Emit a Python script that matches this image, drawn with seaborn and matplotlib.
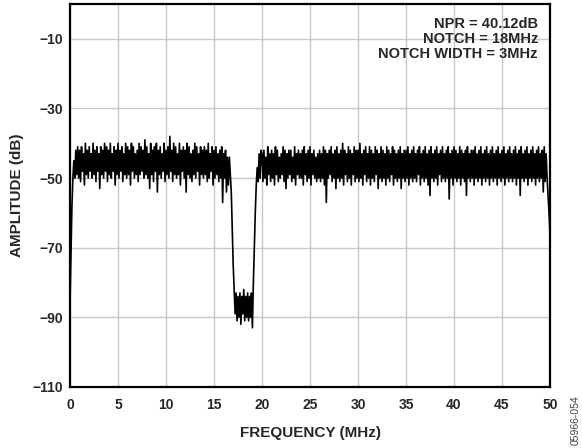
import numpy as np
import pandas as pd
import seaborn as sns
import matplotlib.pyplot as plt

# FFT trace, one row per MHz, 0.1 MHz per sample
FREQ_STEP_MHZ = 0.1
amp_rows = [
    [-86, -72, -58, -50, -45, -50, -42, -49, -41, -50],  # 0
    [-42, -51, -41, -48, -43, -52, -40, -49, -42, -50],  # 1
    [-41, -48, -43, -50, -40, -49, -42, -51, -41, -48],  # 2
    [-43, -53, -41, -49, -42, -50, -40, -48, -41, -51],  # 3
    [-42, -49, -40, -50, -43, -48, -41, -52, -42, -49],  # 4
    [-40, -50, -42, -48, -41, -51, -43, -49, -40, -50],  # 5
    [-41, -49, -42, -52, -40, -48, -41, -50, -43, -49],  # 6
    [-42, -51, -40, -49, -41, -48, -42, -50, -39, -49],  # 7
    [-41, -50, -43, -53, -40, -49, -42, -51, -41, -48],  # 8
    [-40, -54, -42, -49, -41, -50, -43, -48, -40, -51],  # 9
    [-42, -49, -41, -50, -38, -48, -42, -51, -40, -49],  # 10
    [-41, -50, -43, -49, -40, -52, -42, -48, -41, -50],  # 11
    [-42, -54, -40, -49, -41, -50, -43, -51, -42, -49],  # 12
    [-40, -50, -41, -48, -43, -52, -41, -49, -42, -50],  # 13
    [-41, -49, -42, -51, -40, -50, -43, -48, -41, -52],  # 14
    [-42, -50, -41, -49, -43, -51, -42, -50, -41, -57],  # 15
    [-43, -50, -42, -54, -44, -52, -44, -49, -54, -64],  # 16
    [-75, -82, -89, -83, -91, -84, -90, -83, -92, -84],  # 17
    [-89, -82, -91, -84, -90, -83, -91, -84, -90, -83],  # 18
    [-93, -80, -70, -60, -52, -47, -51, -43, -50, -42],  # 19
    [-43, -51, -42, -50, -44, -52, -41, -49, -43, -51],  # 20
    [-42, -50, -43, -52, -41, -49, -42, -51, -44, -50],  # 21
    [-43, -49, -41, -51, -42, -53, -43, -50, -42, -49],  # 22
    [-42, -51, -44, -50, -41, -52, -43, -49, -42, -50],  # 23
    [-43, -50, -42, -52, -41, -49, -43, -51, -42, -50],  # 24
    [-41, -52, -43, -49, -42, -50, -44, -51, -43, -50],  # 25
    [-42, -51, -43, -50, -41, -52, -42, -57, -43, -50],  # 26
    [-42, -49, -41, -51, -43, -50, -42, -53, -41, -50],  # 27
    [-43, -51, -42, -50, -40, -52, -42, -49, -43, -51],  # 28
    [-41, -50, -42, -52, -43, -49, -41, -51, -42, -50],  # 29
    [-42, -51, -40, -50, -43, -52, -42, -49, -41, -51],  # 30
    [-43, -50, -41, -52, -42, -50, -43, -51, -41, -49],  # 31
    [-42, -53, -43, -50, -41, -51, -42, -50, -43, -52],  # 32
    [-41, -50, -42, -51, -43, -49, -41, -52, -42, -50],  # 33
    [-43, -51, -42, -50, -41, -53, -43, -50, -42, -51],  # 34
    [-42, -50, -41, -52, -43, -50, -42, -51, -41, -50],  # 35
    [-43, -51, -42, -49, -41, -52, -43, -50, -42, -51],  # 36
    [-41, -50, -43, -52, -42, -55, -41, -50, -43, -51],  # 37
    [-42, -50, -41, -52, -43, -49, -42, -51, -41, -50],  # 38
    [-43, -51, -42, -50, -41, -56, -43, -50, -42, -52],  # 39
    [-41, -50, -42, -51, -43, -50, -41, -52, -42, -50],  # 40
    [-43, -51, -42, -55, -41, -50, -43, -51, -42, -50],  # 41
    [-42, -52, -41, -50, -43, -51, -42, -50, -41, -52],  # 42
    [-43, -50, -42, -51, -41, -50, -43, -52, -42, -50],  # 43
    [-41, -51, -43, -50, -42, -52, -41, -50, -43, -51],  # 44
    [-42, -50, -41, -52, -43, -50, -42, -51, -41, -50],  # 45
    [-43, -51, -42, -50, -41, -52, -43, -50, -42, -55],  # 46
    [-41, -50, -43, -51, -42, -50, -41, -52, -43, -50],  # 47
    [-42, -51, -41, -50, -43, -52, -42, -50, -41, -51],  # 48
    [-43, -50, -42, -54, -41, -51, -43, -50, -55, -60],  # 49
    [-66],                                               # 50
]

x_ticks = [0, 5, 10, 15, 20, 25, 30, 35, 40, 45, 50]
y_ticks = [-110, -90, -70, -50, -30, -10]
note_lines = ["NPR = 40.12dB", "NOTCH = 18MHz", "NOTCH WIDTH = 3MHz"]

amp = [v for row in amp_rows for v in row]
freq = np.round(np.arange(len(amp)) * FREQ_STEP_MHZ, 1)
df = pd.DataFrame({"freq": freq, "amp": amp})

sns.set_style("whitegrid")
plt.rcParams["font.family"] = ["Liberation Sans", "DejaVu Sans"]
plt.rcParams["font.weight"] = "bold"

fig = plt.figure(figsize=(5.82, 4.48), dpi=100)
ax = fig.add_axes([0.1203, 0.1362, 0.8247, 0.8548])

sns.lineplot(data=df, x="freq", y="amp", color="black", linewidth=1.2,
             estimator=None, ax=ax)

ax.set_xlim(0, 50)
ax.set_ylim(-110, 0)
ax.set_xticks(x_ticks)
ax.set_yticks(y_ticks)
ax.set_yticklabels([f"\u2212{abs(t)}" for t in y_ticks])
ax.tick_params(axis="x", labelsize=10, pad=8, length=0)
ax.tick_params(axis="y", labelsize=10, pad=5, length=0)
for lbl in ax.get_xticklabels() + ax.get_yticklabels():
    lbl.set_fontweight("bold")

ax.grid(True, color="#c8c8c8", linewidth=1.0)
for sp in ax.spines.values():
    sp.set_color("black")
    sp.set_linewidth(1.6)

ax.set_xlabel("FREQUENCY (MHz)", fontsize=11, fontweight="bold", labelpad=10)
ax.set_ylabel("AMPLITUDE (dB)", fontsize=11, fontweight="bold", labelpad=6)

ax.text(0.975, 0.965, "\n".join(note_lines), transform=ax.transAxes,
        ha="right", va="top", multialignment="right", fontsize=10.5,
        fontweight="bold", linespacing=1.05)

fig.text(0.9897, 0.0625, "05966-054", rotation=90, ha="center", va="center",
         fontsize=7.5, fontweight="normal", color="#444444")

fig.savefig("out.png", dpi=100)
